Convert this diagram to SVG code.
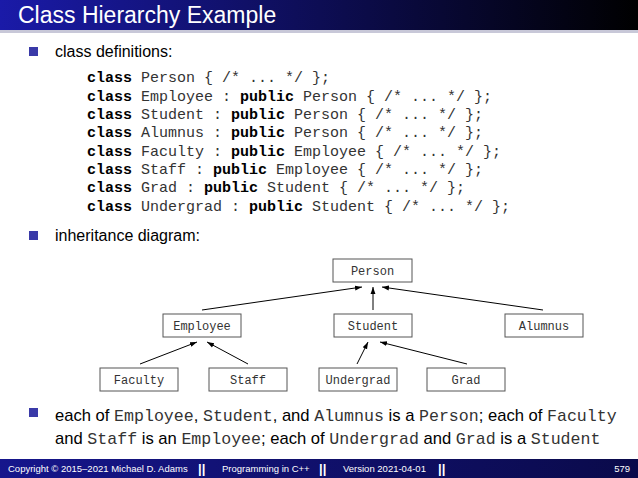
<svg xmlns="http://www.w3.org/2000/svg" width="638" height="478" viewBox="0 0 638 478">
<defs>
<linearGradient id="tg" x1="0" y1="0" x2="1" y2="0"><stop offset="0" stop-color="#1a1aa8"/><stop offset="1" stop-color="#000"/></linearGradient>
<linearGradient id="fg" x1="0" y1="0" x2="1" y2="0"><stop offset="0" stop-color="#16168c"/><stop offset="1" stop-color="#0a0a4a"/></linearGradient>
<marker id="ah" viewBox="0 0 10 10" refX="10" refY="5" markerWidth="7" markerHeight="7" orient="auto"><path d="M0,1.5 L10,5 L0,8.5 z" fill="#000"/></marker>
<style>
.s{font-family:"Liberation Sans",Arial,sans-serif;fill:#000}
.m{font-family:"Liberation Mono","Courier New",monospace;font-size:15px;fill:#333}
.k{font-weight:bold;fill:#000}
.box{fill:#fff;stroke:#555;stroke-width:1}
.nl{font-family:"Liberation Mono","Courier New",monospace;font-size:12px;fill:#333;text-anchor:middle}
.c{stroke:#000;stroke-width:1;marker-end:url(#ah);fill:none}
.bl{fill:#3a3aa8}
.bm{font-family:"Liberation Mono","Courier New",monospace;fill:#333}
</style>
</defs>
<rect width="638" height="478" fill="#fff"/>
<rect x="0" y="0" width="638" height="30" fill="url(#tg)"/>
<rect x="0" y="30" width="638" height="3" fill="#c8c8d8"/>
<text x="18" y="23" class="s" style="font-size:23px;fill:#fff">Class Hierarchy Example</text>
<rect class="bl" x="29" y="47" width="9" height="9"/>
<text x="55" y="57" class="s" style="font-size:16px">class definitions:</text>
<g class="m">
<text x="87" y="82"><tspan class="k">class</tspan> Person { /* ... */ };</text>
<text x="87" y="101"><tspan class="k">class</tspan> Employee : <tspan class="k">public</tspan> Person { /* ... */ };</text>
<text x="87" y="119"><tspan class="k">class</tspan> Student : <tspan class="k">public</tspan> Person { /* ... */ };</text>
<text x="87" y="137"><tspan class="k">class</tspan> Alumnus : <tspan class="k">public</tspan> Person { /* ... */ };</text>
<text x="87" y="156"><tspan class="k">class</tspan> Faculty : <tspan class="k">public</tspan> Employee { /* ... */ };</text>
<text x="87" y="174"><tspan class="k">class</tspan> Staff : <tspan class="k">public</tspan> Employee { /* ... */ };</text>
<text x="87" y="192"><tspan class="k">class</tspan> Grad : <tspan class="k">public</tspan> Student { /* ... */ };</text>
<text x="87" y="211"><tspan class="k">class</tspan> Undergrad : <tspan class="k">public</tspan> Student { /* ... */ };</text>
</g>
<rect class="bl" x="29" y="231" width="9" height="9"/>
<text x="55" y="241" class="s" style="font-size:16px">inheritance diagram:</text>
<g id="connectors">
<line class="c" x1="202" y1="310" x2="362" y2="287"/>
<line class="c" x1="373" y1="310" x2="373" y2="287"/>
<line class="c" x1="543" y1="310" x2="382" y2="287"/>
<line class="c" x1="140" y1="364" x2="197" y2="342"/>
<line class="c" x1="248" y1="364" x2="207" y2="342"/>
<line class="c" x1="357" y1="364" x2="368" y2="342"/>
<line class="c" x1="467" y1="364" x2="380" y2="342"/>
</g>
<g id="person"><rect class="box" x="333" y="259" width="79" height="23"/><text class="nl" x="372.5" y="274.5">Person</text></g>
<g id="employee"><rect class="box" x="163" y="314" width="78" height="23"/><text class="nl" x="202" y="329.5">Employee</text></g>
<g id="student"><rect class="box" x="334" y="314" width="78" height="23"/><text class="nl" x="373" y="329.5">Student</text></g>
<g id="alumnus"><rect class="box" x="505" y="314" width="78" height="23"/><text class="nl" x="544" y="329.5">Alumnus</text></g>
<g id="faculty"><rect class="box" x="100" y="368" width="78" height="23"/><text class="nl" x="139" y="383.5">Faculty</text></g>
<g id="staff"><rect class="box" x="209" y="368" width="78" height="23"/><text class="nl" x="248" y="383.5">Staff</text></g>
<g id="undergrad"><rect class="box" x="319" y="368" width="78" height="23"/><text class="nl" x="358" y="383.5">Undergrad</text></g>
<g id="grad"><rect class="box" x="427" y="368" width="78" height="23"/><text class="nl" x="466" y="383.5">Grad</text></g>
<rect class="bl" x="29" y="408" width="9" height="9"/>
<text x="55" y="421" class="s" style="font-size:16.6px">each of <tspan class="bm">Employee</tspan>, <tspan class="bm">Student</tspan>, and <tspan class="bm">Alumnus</tspan> is a <tspan class="bm">Person</tspan>; each of <tspan class="bm">Faculty</tspan></text>
<text x="55" y="444" class="s" style="font-size:16.6px">and <tspan class="bm">Staff</tspan> is an <tspan class="bm">Employee</tspan>; each of <tspan class="bm">Undergrad</tspan> and <tspan class="bm">Grad</tspan> is a <tspan class="bm">Student</tspan></text>
<rect x="0" y="459" width="638" height="19" fill="url(#fg)"/>
<g class="s" style="font-size:9.5px;fill:#fff">
<text x="8" y="472">Copyright © 2015–2021 Michael D. Adams</text>
<text x="198" y="473" style="font-size:13px;font-weight:bold">||</text>
<text x="222" y="472">Programming in C++</text>
<text x="319" y="473" style="font-size:13px;font-weight:bold">||</text>
<text x="343" y="472">Version 2021-04-01</text>
<text x="438" y="473" style="font-size:13px;font-weight:bold">||</text>
<text x="630" y="472" text-anchor="end">579</text>
</g>
</svg>
